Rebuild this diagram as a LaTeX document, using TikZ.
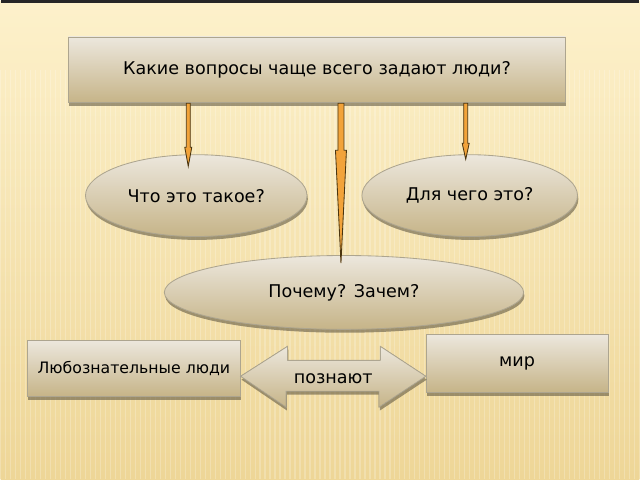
\documentclass[tikz,border=0pt]{standalone}
\usepackage{fontspec}
\setmainfont{DejaVu Sans}
\usetikzlibrary{positioning, calc, shadows, shapes.geometric}

\definecolor{bgtop}{HTML}{FDF1CB}
\definecolor{bgbot}{HTML}{EED697}
\definecolor{boxtop}{HTML}{ECE7DD}
\definecolor{boxbot}{HTML}{C6B488}
\definecolor{boxline}{HTML}{ADA58F}
\definecolor{arrfill}{HTML}{F2A33A}
\definecolor{arrline}{HTML}{4A3510}

% block arrow pointing down: start, tip, shaft half width, head half width, head length
\newcommand{\blockdown}[5]{%
  \filldraw[orangearrow] ($(#1)+(-#3,0)$) -- ($(#2)+(-#3,-#5)$) -- ($(#2)+(-#4,-#5)$) -- (#2)
    -- ($(#2)+(#4,-#5)$) -- ($(#2)+(#3,-#5)$) -- ($(#1)+(#3,0)$) -- cycle;}

\begin{document}
\begin{tikzpicture}[
			x=0.025cm, y=-0.025cm,
			shade/.style={top color=boxtop, bottom color=boxbot, draw=boxline, line width=0.6pt,
				drop shadow={shadow xshift=0.6pt, shadow yshift=-2.4pt, opacity=0.6, fill=boxbot!50!black}},
			box/.style={shade, inner sep=0pt, font=\fontsize{12.5}{15}\selectfont},
			oval/.style={box, ellipse},
			orangearrow/.style={fill=arrfill, draw=arrline, line width=0.6pt, line join=miter}
			]
			% background
			\fill[top color=bgtop, bottom color=bgbot] (0,0) rectangle (640,480);
			\foreach \x in {0,5,...,640}
				\draw[white, opacity=0.22, line width=0.9pt] (\x,70) -- (\x,480);
			\fill[black!85] (0,0) rectangle (640,3);
			\useasboundingbox (0,0) rectangle (640,480);
			
			% question and answers
			\node[box, minimum width=498*0.025cm, minimum height=66*0.025cm] (q) at (317,70) {Какие вопросы чаще всего задают люди?};
			\node[oval, minimum width=222*0.025cm, minimum height=82*0.025cm] (what) at (196,196) {Что это такое?};
			\node[oval, minimum width=216*0.025cm, minimum height=82*0.025cm] (whatfor) at (470,196) {Для чего это?};
			\node[oval, minimum width=360*0.025cm, minimum height=74*0.025cm] (why) at (344,293) {Почему? Зачем?};
			
			\coordinate (t1) at ($(what.north)+(-8,12)$);
			\coordinate (t2) at ($(why.north)+(-3,8)$);
			\coordinate (t3) at ($(whatfor.north)+(-4,5)$);
			\coordinate (s1) at (t1 |- q.south);
			\coordinate (s2) at (t2 |- q.south);
			\coordinate (s3) at (t3 |- q.south);
			\blockdown{s1}{t1}{2}{3.5}{19}
			\blockdown{s2}{t2}{3}{5.5}{113}
			\blockdown{s3}{t3}{2}{3.5}{16}
			
			% people know the world
			\node[box, minimum width=213*0.025cm, minimum height=56*0.025cm, font=\fontsize{11.2}{13}\selectfont] (people) at (133.5,369) {Любознательные люди};
			\node[box, minimum width=182*0.025cm, minimum height=58*0.025cm] (world) at (517.5,364) {мир};
			
			\coordinate (dl) at ($(people.east)+(0,8)$);
			\coordinate (dr) at ($(world.west)+(0,13)$);
			\filldraw[shade] (dl) -- ++(47,-30) -- ++(0,14) -- ++(93,0) -- ++(0,-14) -- (dr)
				-- ++(-47,31) -- ++(0,-16) -- ++(-93,0) -- ++(0,16) -- cycle;
			\node[font=\fontsize{12.5}{15}\selectfont] (know) at ($(dl)!0.5!(dr)+(0,2)$) {познают};
		\end{tikzpicture}
\end{document}
